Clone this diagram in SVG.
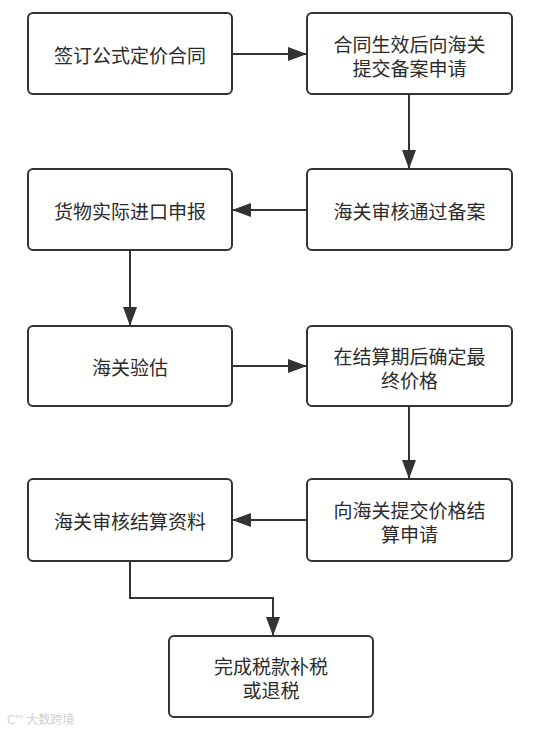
<svg xmlns="http://www.w3.org/2000/svg" width="544" height="732" viewBox="0 0 544 732">
<style>
.box{fill:#fff;stroke:#333;stroke-width:2}
.t{font-family:"Noto Sans CJK SC","Noto Sans",sans-serif;font-size:19px;fill:#2b2b2b;text-anchor:middle;dominant-baseline:central}
.c{fill:none;stroke:#333;stroke-width:2}
.wm{font-family:"Noto Sans CJK SC",sans-serif;font-size:12px;fill:#d0d0d0}
</style>
<defs>
<marker id="ah" viewBox="0 0 19 14" refX="19" refY="7" markerWidth="19" markerHeight="14" markerUnits="userSpaceOnUse" orient="auto">
<path d="M0,0 L19,7 L0,14 Z" fill="#333"/>
</marker>
</defs>
<rect width="544" height="732" fill="#fff"/>
<g id="connectors">
<line class="c" x1="232" y1="54" x2="307" y2="54" marker-end="url(#ah)"/>
<line class="c" x1="409" y1="94" x2="409" y2="169" marker-end="url(#ah)"/>
<line class="c" x1="307" y1="210" x2="232" y2="210" marker-end="url(#ah)"/>
<line class="c" x1="130" y1="250" x2="130" y2="326" marker-end="url(#ah)"/>
<line class="c" x1="232" y1="366" x2="307" y2="366" marker-end="url(#ah)"/>
<line class="c" x1="409" y1="406" x2="409" y2="479" marker-end="url(#ah)"/>
<line class="c" x1="307" y1="520" x2="232" y2="520" marker-end="url(#ah)"/>
<polyline class="c" points="130,561 130,598 273,598 273,636" marker-end="url(#ah)"/>
</g>
<g id="n1"><rect class="box" x="28" y="13" width="204" height="81" rx="5"/><text class="t" x="130" y="54">签订公式定价合同</text></g>
<g id="n2"><rect class="box" x="307" y="13" width="205" height="81" rx="5"/><text class="t"><tspan x="409.5" y="43">合同生效后向海关</tspan><tspan x="409.5" y="67">提交备案申请</tspan></text></g>
<g id="n3"><rect class="box" x="307" y="169" width="205" height="81" rx="5"/><text class="t" x="409.5" y="210">海关审核通过备案</text></g>
<g id="n4"><rect class="box" x="28" y="169" width="204" height="81" rx="5"/><text class="t" x="130" y="210">货物实际进口申报</text></g>
<g id="n5"><rect class="box" x="28" y="326" width="204" height="80" rx="5"/><text class="t" x="130" y="366">海关验估</text></g>
<g id="n6"><rect class="box" x="307" y="326" width="205" height="80" rx="5"/><text class="t"><tspan x="409.5" y="355">在结算期后确定最</tspan><tspan x="409.5" y="379">终价格</tspan></text></g>
<g id="n7"><rect class="box" x="307" y="479" width="205" height="82" rx="5"/><text class="t"><tspan x="409.5" y="509">向海关提交价格结</tspan><tspan x="409.5" y="533">算申请</tspan></text></g>
<g id="n8"><rect class="box" x="28" y="479" width="204" height="82" rx="5"/><text class="t" x="130" y="520">海关审核结算资料</text></g>
<g id="n9"><rect class="box" x="169" y="636" width="204" height="81" rx="5"/><text class="t"><tspan x="271" y="665">完成税款补税</tspan><tspan x="271" y="689">或退税</tspan></text></g>
<g id="watermark"><text class="wm" x="7" y="724">C°° 大数跨境</text></g>
</svg>
